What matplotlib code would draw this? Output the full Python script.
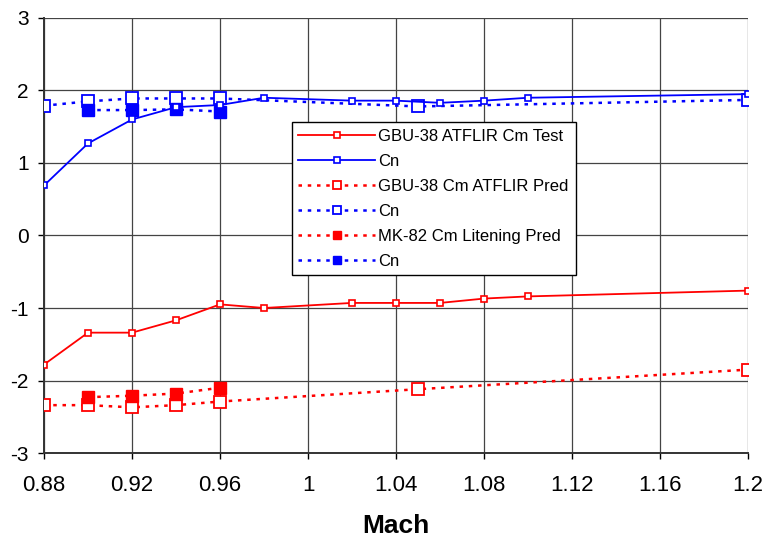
import matplotlib
matplotlib.use("Agg")
import matplotlib.pyplot as plt

plt.rcParams['font.family'] = ['Liberation Sans', 'DejaVu Sans']
plt.rcParams['axes.unicode_minus'] = False

# datos
mach_test = [0.88, 0.90, 0.92, 0.94, 0.96, 0.98, 1.02, 1.04, 1.06, 1.08, 1.10, 1.20]
cm_test = [-1.78, -1.34, -1.34, -1.17, -0.95, -1.00, -0.93, -0.93, -0.93, -0.87, -0.84, -0.76]
cn_test = [0.69, 1.27, 1.60, 1.77, 1.80, 1.90, 1.86, 1.86, 1.83, 1.86, 1.90, 1.95]

mach_pred = [0.88, 0.90, 0.92, 0.94, 0.96, 1.05, 1.20]
cm_pred = [-2.34, -2.34, -2.37, -2.34, -2.29, -2.12, -1.85]
cn_pred = [1.79, 1.85, 1.89, 1.89, 1.89, 1.78, 1.87]

mach_mk82 = [0.90, 0.92, 0.94, 0.96]
cm_mk82 = [-2.23, -2.21, -2.18, -2.10]
cn_mk82 = [1.73, 1.73, 1.74, 1.71]

xticks = [0.88, 0.92, 0.96, 1.00, 1.04, 1.08, 1.12, 1.16, 1.20]
yticks = [-3, -2, -1, 0, 1, 2, 3]

rojo = '#FF0000'
azul = '#0000FF'
punteado = (0, (1.4, 2.3))

fig = plt.figure(figsize=(7.68, 5.42), dpi=100)
ax = fig.add_axes([0.0573, 0.1642, 0.9167, 0.8026])

ax.plot(mach_test, cm_test, color=rojo, lw=1.3, marker='s', ms=5,
        mfc='white', mec=rojo, mew=1.2, label="GBU-38 ATFLIR Cm Test", zorder=4)
ax.plot(mach_test, cn_test, color=azul, lw=1.3, marker='s', ms=5,
        mfc='white', mec=azul, mew=1.2, label="Cn", zorder=4)
ax.plot(mach_pred, cm_pred, color=rojo, lw=1.8, ls=punteado, marker='s', ms=8,
        mfc='white', mec=rojo, mew=1.3, label="GBU-38 Cm ATFLIR Pred", zorder=3)
ax.plot(mach_pred, cn_pred, color=azul, lw=1.8, ls=punteado, marker='s', ms=8,
        mfc='white', mec=azul, mew=1.3, label="Cn", zorder=3)
ax.plot(mach_mk82, cm_mk82, color=rojo, lw=1.8, ls=punteado, marker='s', ms=8,
        mfc=rojo, mec=rojo, label="MK-82 Cm Litening Pred", zorder=3)
ax.plot(mach_mk82, cn_mk82, color=azul, lw=1.8, ls=punteado, marker='s', ms=8,
        mfc=azul, mec=azul, label="Cn", zorder=3)

ax.set_xlim(0.88, 1.2)
ax.set_ylim(-3, 3)
ax.set_xticks(xticks)
ax.set_xticklabels(["%g" % v for v in xticks])
ax.set_yticks(yticks)
ax.grid(True, color='#444444', lw=0.9)
ax.set_axisbelow(True)
for lado in ['top', 'right']:
    ax.spines[lado].set_visible(False)
for lado in ['left', 'bottom']:
    ax.spines[lado].set_linewidth(1.4)
    ax.spines[lado].set_color('#333333')
ax.tick_params(direction='out', length=4, width=1)
ax.tick_params(axis='x', labelsize=16, pad=12)
ax.tick_params(axis='y', labelsize=15, pad=7)
ax.set_xlabel("Mach", fontsize=19, fontweight='bold', labelpad=13)

leg = ax.legend(loc='upper left', bbox_to_anchor=(0.352, 0.761), borderaxespad=0,
                fancybox=False, framealpha=1, edgecolor='black', fontsize=12,
                handlelength=4.6, labelspacing=0.6, handletextpad=0.2,
                borderpad=0.4, markerscale=0.75)
leg.get_frame().set_linewidth(1.0)

plt.savefig("out.png", dpi=100)
